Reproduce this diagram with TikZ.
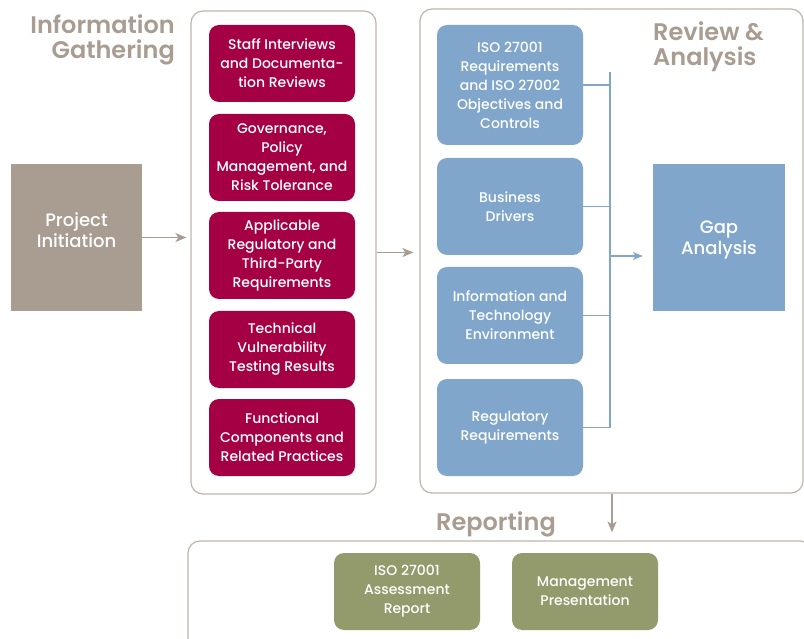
\documentclass[tikz,border=0pt]{standalone}
\usepackage{fontspec}
\usepackage{xcolor}
\usepackage{tikz}
\usetikzlibrary{arrows.meta}
\setmainfont{Poppins}[UprightFont=* Medium, BoldFont=* SemiBold]

\definecolor{taupe}{HTML}{A99D92}
\definecolor{crimson}{HTML}{A50044}
\definecolor{steel}{HTML}{80A6CB}
\definecolor{olive}{HTML}{939A6B}
\definecolor{frame}{HTML}{BFB5AD}

\begin{document}
\begin{tikzpicture}[x=1pt,y=-1pt,
    container/.style={draw=frame, line width=1.2pt, rounded corners=12pt, fill=white},
    item/.style={rounded corners=10pt, minimum width=146pt, text=white, align=center,
        font=\fontsize{14}{19}\selectfont},
    gather/.style={item, fill=crimson},
    review/.style={item, fill=steel},
    report/.style={item, fill=olive, minimum height=77pt},
    stage/.style={minimum width=131pt, minimum height=147pt, text=white, align=center,
        font=\fontsize{18}{21}\selectfont},
    heading/.style={text=taupe, font=\fontsize{24}{25}\selectfont\bfseries, inner sep=0pt},
    flow/.style={draw=taupe, line width=1.5pt, -{Stealth[length=11pt,width=9pt,inset=3pt]}},
    bus/.style={draw=steel, line width=1.2pt}]

        \clip (0,0) rectangle (804,639);
        \fill[white] (0,0) rectangle (804,639);

        % Containers
        \node[container, minimum width=185pt, minimum height=483pt] (ig) at (283.5,252.5) {};
        \node[container, minimum width=383pt, minimum height=484pt] (ra) at (611.5,251) {};
        \node[container, minimum width=624pt, minimum height=119pt] (rep) at (500,600.5) {};

        % Headings
        \node[heading, anchor=north east, align=right] (hig) at (175,14) {Information\\Gathering};
        \node[heading, anchor=north west, align=left] (hra) at (653,21) {Review \&\\Analysis};
        \node[heading, anchor=north west] (hrep) at (436,511) {Reporting};

        % Project initiation
        \node[stage, fill=taupe] (pi) at (76.5,237.5) {};
        \node[stage, minimum height=0pt] (pit) at (76.5,230) {Project\\Initiation};

        % Information gathering
        \node[gather, minimum height=77pt] (g1) at (282,63.5) {Staff Interviews\\and Documenta-\\tion Reviews};
        \node[gather, minimum height=87pt] (g2) at (282,157.5) {Governance,\\Policy\\Management, and\\Risk Tolerance};
        \node[gather, minimum height=87pt] (g3) at (282,255.5) {Applicable\\Regulatory and\\Third-Party\\Requirements};
        \node[gather, minimum height=77pt] (g4) at (282,349.5) {Technical\\Vulnerability\\Testing Results};
        \node[gather, minimum height=77pt] (g5) at (282,437.5) {Functional\\Components and\\Related Practices};

        % Review and analysis
        \node[review, minimum height=120pt] (r1) at (510,85) {ISO 27001\\Requirements\\and ISO 27002\\Objectives and\\Controls};
        \node[review, minimum height=97pt] (r2) at (510,206.5) {Business\\Drivers};
        \node[review, minimum height=97pt] (r3) at (510,315.5) {Information and\\Technology\\Environment};
        \node[review, minimum height=97pt] (r4) at (510,427.5) {Regulatory\\Requirements};
        \node[stage, fill=steel, minimum width=132pt] (gap) at (719,237.5) {};
        \node[stage, minimum height=0pt] (gapt) at (719,240) {Gap\\Analysis};

        % Reporting
        \node[report] (p1) at (407,591.5) {ISO 27001\\Assessment\\Report};
        \node[report] (p2) at (585,591.5) {Management\\Presentation};

        % Flow arrows
        \draw[flow, shorten >=4pt] (pi.east) -- (pi.east -| ig.west);
        \draw[flow, shorten >=6pt] (ig.east) -- (ig.east -| ra.west);
        \coordinate (down) at (612,0);
        \draw[flow, shorten >=8pt] (ra.south -| down) -- (rep.north -| down);

        % Collector line
        \coordinate (bustop) at (610,72);
        \coordinate (busmid) at (610,256);
        \draw[bus] (bustop) -- (r4.east -| bustop);
        \foreach \b in {r1,r2,r3,r4}
            \draw[bus] (\b.east) -- (\b.east -| bustop);
        \draw[bus, -{Stealth[length=10pt,width=8pt,inset=3pt]}, shorten >=10pt] (busmid) -- (busmid -| gap.west);

    \end{tikzpicture}
\end{document}
